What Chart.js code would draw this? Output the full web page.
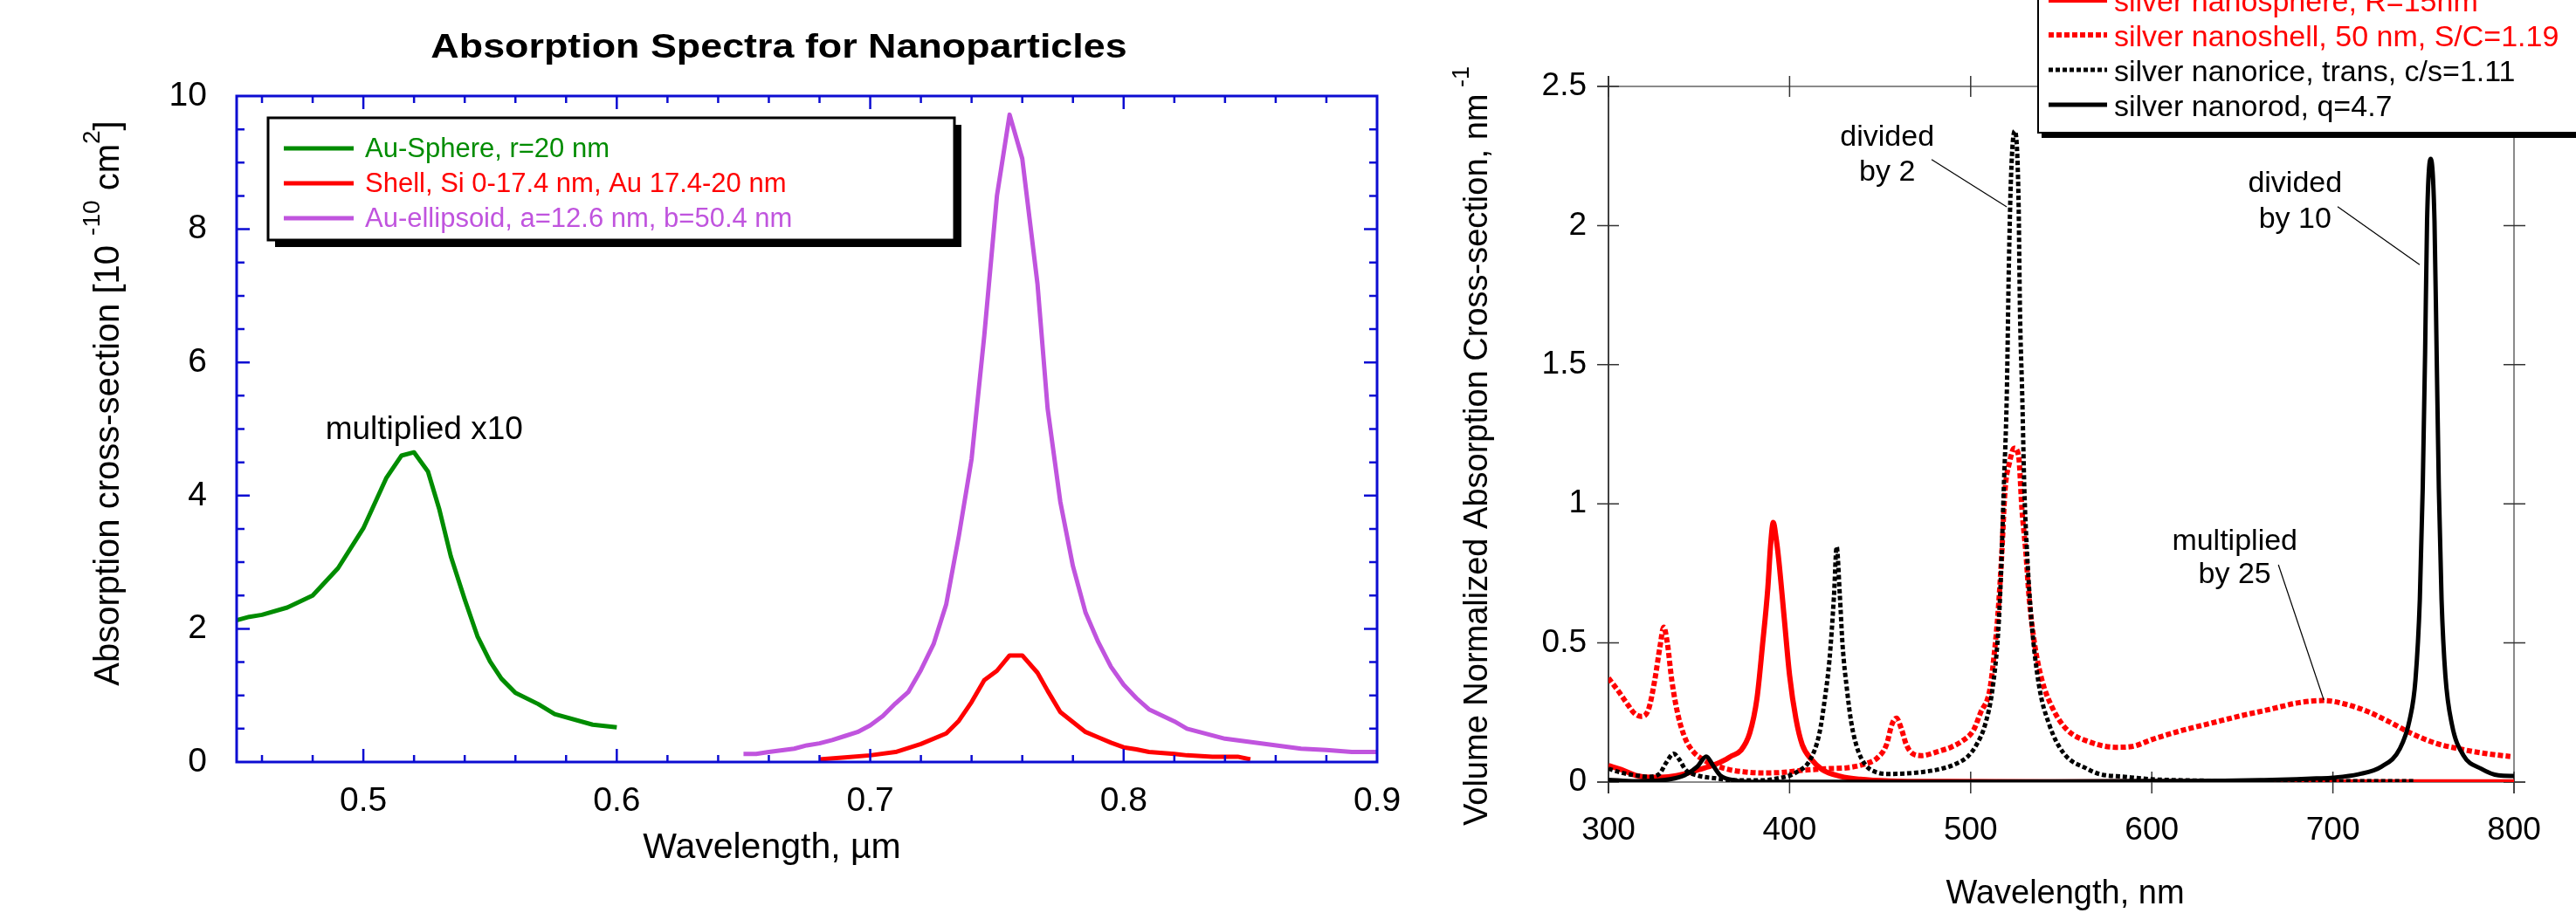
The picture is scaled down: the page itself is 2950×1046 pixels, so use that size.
<!DOCTYPE html>
<html>
<head>
<meta charset="utf-8">
<title>Absorption spectra of nanoparticles</title>
<script src="https://cdn.jsdelivr.net/npm/chart.js@4.4.1/dist/chart.umd.min.js"></script>
<style>
  html, body { margin: 0; padding: 0; background: #fff; }
  #wrap { position: relative; width: 2950px; height: 1046px; overflow: hidden; background: #fff; }
  canvas { position: absolute; top: 0; }
  #leftChart { left: 0; }
  #rightChart { left: 1640px; }
</style>
</head>
<body>
<div id="wrap">
  <canvas id="leftChart" width="1640" height="1046"></canvas>
  <canvas id="rightChart" width="1310" height="1046"></canvas>
</div>
<script>
// ---- left panel data (wavelength in um, cross-section in 1e-10 cm^2) ----
const leftXTicks = [0.5, 0.6, 0.7, 0.8, 0.9];
const leftXTickLabels = ['0.5', '0.6', '0.7', '0.8', '0.9'];
const leftYTicks = [0, 2, 4, 6, 8, 10];
const leftYTickLabels = ['0', '2', '4', '6', '8', '10'];
const leftLegendLabels = ['Au-Sphere, r=20 nm', 'Shell, Si 0-17.4 nm, Au 17.4-20 nm', 'Au-ellipsoid, a=12.6 nm, b=50.4 nm'];

const sphereWl = [0.45, 0.455, 0.46, 0.47, 0.48, 0.49, 0.50, 0.509, 0.515, 0.52, 0.5255, 0.530, 0.5345, 0.54, 0.545, 0.55, 0.5545, 0.56, 0.569, 0.5755, 0.5905, 0.60];
const sphereAbs = [2.13, 2.18, 2.21, 2.32, 2.50, 2.91, 3.51, 4.26, 4.60, 4.65, 4.36, 3.79, 3.09, 2.44, 1.89, 1.51, 1.25, 1.04, 0.87, 0.72, 0.56, 0.52];

const shellWl = [0.68, 0.69, 0.70, 0.71, 0.72, 0.73, 0.735, 0.74, 0.745, 0.75, 0.755, 0.76, 0.766, 0.77, 0.775, 0.78, 0.785, 0.79, 0.795, 0.80, 0.805, 0.81, 0.82, 0.825, 0.835, 0.845, 0.85];
const shellAbs = [0.04, 0.07, 0.10, 0.15, 0.27, 0.43, 0.62, 0.90, 1.23, 1.37, 1.60, 1.60, 1.34, 1.07, 0.75, 0.60, 0.45, 0.37, 0.29, 0.22, 0.19, 0.15, 0.12, 0.10, 0.08, 0.08, 0.04];

const ellipsoidWl = [0.65, 0.655, 0.66, 0.67, 0.675, 0.68, 0.685, 0.69, 0.695, 0.70, 0.705, 0.71, 0.715, 0.72, 0.725, 0.73, 0.735, 0.74, 0.745, 0.75, 0.755, 0.76, 0.766, 0.77, 0.775, 0.78, 0.785, 0.79, 0.795, 0.80, 0.805, 0.81, 0.82, 0.825, 0.84, 0.87, 0.88, 0.89, 0.90];
const ellipsoidAbs = [0.12, 0.12, 0.15, 0.20, 0.25, 0.28, 0.33, 0.39, 0.45, 0.55, 0.69, 0.88, 1.05, 1.38, 1.77, 2.37, 3.4, 4.55, 6.4, 8.5, 9.72, 9.06, 7.18, 5.31, 3.91, 2.94, 2.24, 1.80, 1.43, 1.16, 0.96, 0.79, 0.61, 0.50, 0.35, 0.20, 0.18, 0.15, 0.15];

// ---- right panel data (wavelength in nm, normalized cross-section in nm^-1) ----
const rightXTicks = [300, 400, 500, 600, 700, 800];
const rightXTickLabels = ['300', '400', '500', '600', '700', '800'];
const rightYTicks = [0, 0.5, 1, 1.5, 2, 2.5];
const rightYTickLabels = ['0', '0.5', '1', '1.5', '2', '2.5'];
const rightLegendLabels = ['silver nanosphere, R=15nm', 'silver nanoshell, 50 nm, S/C=1.19', 'silver nanorice, trans, c/s=1.11', 'silver nanorod, q=4.7'];

const nanosphereNm = [300, 307, 315, 323, 333, 342, 350, 358, 365, 368, 373, 378, 382, 385, 388, 389.5, 391, 392.5, 394, 397, 400, 403.5, 407, 412, 418, 428, 439, 455, 487, 550, 650, 800];
const nanosphereVal = [0.059, 0.045, 0.024, 0.017, 0.019, 0.029, 0.045, 0.061, 0.082, 0.094, 0.113, 0.176, 0.301, 0.489, 0.698, 0.85, 0.933, 0.88, 0.80, 0.593, 0.384, 0.228, 0.134, 0.082, 0.045, 0.021, 0.010, 0.004, 0.002, 0.001, 0.001, 0.001];

const nanoshellNm = [300, 306, 311, 314, 318, 322, 325.5, 328.5, 330.5, 332.5, 335, 338.5, 342.5, 347, 352, 358.5, 366.5, 374.5, 384, 394, 407, 420, 432.5, 442, 448.5, 453.5, 456.5, 459, 461.5, 464.5, 468, 473, 481, 489, 495, 501.5, 505.5, 510.5, 513, 515, 517, 519, 521.5, 524, 526.5, 528.3, 530.4, 532.3, 535.2, 539.2, 544.9, 552.9, 565.8, 580, 589, 601, 617, 633, 649, 665, 681, 695, 707, 719, 731, 743, 757, 771, 785, 798];
const nanoshellVal = [0.374, 0.322, 0.275, 0.249, 0.236, 0.259, 0.364, 0.489, 0.557, 0.500, 0.364, 0.238, 0.155, 0.108, 0.082, 0.061, 0.045, 0.037, 0.033, 0.034, 0.042, 0.048, 0.052, 0.066, 0.087, 0.134, 0.207, 0.230, 0.196, 0.134, 0.102, 0.095, 0.108, 0.125, 0.146, 0.186, 0.25, 0.33, 0.46, 0.6, 0.8, 1.05, 1.15, 1.20, 1.17, 0.98, 0.83, 0.66, 0.50, 0.37, 0.27, 0.19, 0.144, 0.125, 0.128, 0.155, 0.186, 0.212, 0.238, 0.261, 0.285, 0.293, 0.280, 0.254, 0.217, 0.176, 0.139, 0.118, 0.102, 0.092];

const nanoriceNm = [300, 307, 315, 322, 328, 332, 336, 339, 342.5, 349, 358.5, 371, 384, 394, 403.5, 411.5, 416.5, 419.5, 422, 424.5, 426, 427.7, 429.3, 431.7, 434, 437.3, 442, 448.6, 455, 464.6, 474.3, 484, 492, 498.4, 503.2, 508, 512, 515.2, 516.7, 518.3, 519.9, 521.1, 522.3, 524.3, 526.4, 527.2, 528.5, 529.6, 531.2, 533.6, 537.6, 543.3, 551.3, 564.2, 571, 585, 600, 621, 650, 700, 745];
const nanoriceVal = [0.048, 0.034, 0.024, 0.019, 0.029, 0.071, 0.102, 0.082, 0.045, 0.024, 0.014, 0.006, 0.006, 0.014, 0.034, 0.082, 0.176, 0.301, 0.437, 0.667, 0.846, 0.677, 0.489, 0.332, 0.217, 0.123, 0.061, 0.034, 0.029, 0.031, 0.037, 0.048, 0.066, 0.092, 0.134, 0.207, 0.332, 0.541, 0.74, 1.06, 1.38, 1.86, 2.18, 2.34, 2.10, 1.70, 1.38, 1.06, 0.816, 0.577, 0.352, 0.208, 0.104, 0.048, 0.029, 0.019, 0.010, 0.006, 0.004, 0.003, 0.003];

const nanorodNm = [300, 315, 334, 342, 349, 354, 357.7, 361.7, 370, 381, 450, 550, 600, 640, 660, 680, 691, 700, 714, 727, 737, 742.4, 745.6, 748, 749.6, 750.9, 752, 754, 756.1, 757.3, 758.5, 760, 762.1, 765.7, 772.1, 781.8, 791.4, 800];
const nanorodVal = [0.008, 0.003, 0.010, 0.024, 0.055, 0.092, 0.060, 0.024, 0.006, 0.001, 0.001, 0.002, 0.004, 0.005, 0.007, 0.010, 0.013, 0.016, 0.028, 0.056, 0.12, 0.224, 0.368, 0.656, 1.056, 1.536, 2.016, 2.24, 2.016, 1.536, 1.056, 0.656, 0.384, 0.208, 0.096, 0.048, 0.024, 0.022];

// ---- styles ----
const FONT = "'Liberation Sans', Arial, Helvetica, sans-serif";
const BLUE = '#0c0cd2';
const GREEN = 'rgb(0,140,0)';
const RED = '#ff0000';
const PURPLE = 'rgb(192,84,222)';

function pts(xs, ys) {
    return xs.map((x, i) => ({ x: x, y: ys[i] }));
}

// draws a line of text made of runs, some of them superscript
function drawRich(ctx, runs, x, y, size, opts) {
    opts = opts || {};
    const weight = opts.bold ? 'bold ' : '';
    const supSize = Math.round(size * 0.7);
    let total = 0;
    const widths = runs.map(r => {
        ctx.font = weight + (r.sup ? supSize : size) + 'px ' + FONT;
        const w = ctx.measureText(r.t).width;
        total += w;
        return w;
    });
    ctx.save();
    ctx.translate(x, y);
    if (opts.rotate) ctx.rotate(opts.rotate);
    if (opts.stretch) ctx.scale(opts.stretch, 1);
    ctx.fillStyle = opts.color || '#000';
    ctx.textBaseline = 'alphabetic';
    ctx.textAlign = 'left';
    let cx = opts.align === 'left' ? 0 : -total / 2;
    runs.forEach((r, i) => {
        ctx.font = weight + (r.sup ? supSize : size) + 'px ' + FONT;
        ctx.fillText(r.t, cx, r.sup ? -size * 0.55 : 0);
        cx += widths[i];
    });
    ctx.restore();
}

function drawLegend(ctx, datasets, labels, box, rows) {
    ctx.save();
    ctx.fillStyle = '#000';
    ctx.fillRect(box.x + box.shadowX, box.y + box.shadowY, box.w, box.h);
    ctx.fillStyle = '#fff';
    ctx.fillRect(box.x, box.y, box.w, box.h);
    ctx.strokeStyle = '#000';
    ctx.lineWidth = box.border;
    ctx.strokeRect(box.x, box.y, box.w, box.h);
    datasets.forEach((ds, i) => {
        const base = rows.baselines[i];
        ctx.beginPath();
        ctx.strokeStyle = ds.borderColor;
        ctx.lineWidth = ds.borderWidth;
        ctx.setLineDash(ds.borderDash || []);
        ctx.moveTo(rows.x0, base - rows.lineOffset);
        ctx.lineTo(rows.x1, base - rows.lineOffset);
        ctx.stroke();
        ctx.setLineDash([]);
        ctx.font = rows.size + 'px ' + FONT;
        ctx.fillStyle = ds.borderColor;
        ctx.textAlign = 'left';
        ctx.textBaseline = 'alphabetic';
        ctx.fillText(labels[i], rows.textX, base);
    });
    ctx.restore();
}

// ---------------- left chart ----------------
const leftDecor = {
    id: 'leftDecor',
    afterDatasetsDraw(chart) {
        const { ctx, chartArea: a, scales: { x, y } } = chart;
        ctx.save();
        ctx.strokeStyle = BLUE;
        ctx.lineWidth = 3;
        ctx.strokeRect(a.left, a.top, a.right - a.left, a.bottom - a.top);
        ctx.lineWidth = 2.5;
        ctx.beginPath();
        // x ticks every 0.02, long ones every 0.1
        for (let k = 23; k < 45; k++) {
            const px = x.getPixelForValue(k * 0.02);
            const len = k % 5 === 0 ? 15 : 8;
            ctx.moveTo(px, a.bottom); ctx.lineTo(px, a.bottom - len);
            ctx.moveTo(px, a.top); ctx.lineTo(px, a.top + len);
        }
        // y ticks every 0.5, long ones every 2
        for (let k = 1; k < 20; k++) {
            const py = y.getPixelForValue(k * 0.5);
            const len = k % 4 === 0 ? 15 : 9;
            ctx.moveTo(a.left, py); ctx.lineTo(a.left + len, py);
            ctx.moveTo(a.right, py); ctx.lineTo(a.right - len, py);
        }
        ctx.stroke();
        ctx.restore();

        // annotation
        drawRich(ctx, [{ t: 'multiplied x10' }], x.getPixelForValue(0.524), y.getPixelForValue(4.85), 37);

        drawLegend(ctx, chart.data.datasets, leftLegendLabels,
            { x: 307, y: 135, w: 786, h: 140, shadowX: 8, shadowY: 8, border: 3 },
            { baselines: [180, 220, 260], lineOffset: 10, x0: 325, x1: 405, textX: 418, size: 31 });
    },
    afterDraw(chart) {
        const ctx = chart.ctx;
        drawRich(ctx, [{ t: 'Absorption Spectra for Nanoparticles' }], 892, 66, 38, { bold: true, stretch: 1.18 });
        drawRich(ctx, [{ t: 'Wavelength, \u00b5m' }], 884, 983, 41);
        drawRich(ctx, [
            { t: 'Absorption cross-section [10 ' }, { t: '-10', sup: true },
            { t: ' cm' }, { t: '2', sup: true }, { t: ']' }
        ], 136, 462, 40, { rotate: -Math.PI / 2 });
    }
};

new Chart(document.getElementById('leftChart'), {
    type: 'line',
    data: {
        datasets: [
            { label: leftLegendLabels[0], data: pts(sphereWl, sphereAbs), borderColor: GREEN, borderWidth: 5 },
            { label: leftLegendLabels[1], data: pts(shellWl, shellAbs), borderColor: RED, borderWidth: 5 },
            { label: leftLegendLabels[2], data: pts(ellipsoidWl, ellipsoidAbs), borderColor: PURPLE, borderWidth: 5 }
        ]
    },
    options: {
        responsive: false,
        animation: false,
        devicePixelRatio: 1,
        events: [],
        layout: { padding: { left: 0, top: 110, right: 63, bottom: 0 } },
        elements: { point: { radius: 0 }, line: { tension: 0, fill: false, borderJoinStyle: 'round' } },
        plugins: { legend: { display: false }, tooltip: { enabled: false } },
        scales: {
            x: {
                type: 'linear', min: 0.45, max: 0.9,
                afterBuildTicks: s => { s.ticks = leftXTicks.map(v => ({ value: v })); },
                afterFit: s => { s.height = 173; },
                grid: { display: false, drawTicks: false },
                border: { display: false },
                ticks: {
                    callback: (v, i) => leftXTickLabels[i],
                    color: '#000', padding: 22, maxRotation: 0, autoSkip: false,
                    font: { family: FONT, size: 39 }
                }
            },
            y: {
                type: 'linear', min: 0, max: 10,
                afterBuildTicks: s => { s.ticks = leftYTicks.map(v => ({ value: v })); },
                afterFit: s => { s.width = 271; },
                grid: { display: false, drawTicks: false },
                border: { display: false },
                ticks: {
                    callback: (v, i) => leftYTickLabels[i],
                    color: '#000', padding: 34, autoSkip: false,
                    font: { family: FONT, size: 39 }
                }
            }
        }
    },
    plugins: [leftDecor]
});

// ---------------- right chart ----------------
const rightNotes = [
    { lines: ['divided', 'by 2'], x: 453.9, y: [2.287, 2.161], from: [478.4, 2.237], to: [519.9, 2.067] },
    { lines: ['divided', 'by 10'], x: 679.1, y: [2.120, 1.992], from: [702.6, 2.068], to: [747.9, 1.859] },
    { lines: ['multiplied', 'by 25'], x: 645.8, y: [0.834, 0.715], from: [669.9, 0.781], to: [695.0, 0.295] }
];

const rightDecor = {
    id: 'rightDecor',
    beforeDatasetsDraw(chart) {
        const { ctx, chartArea: a, scales: { x, y } } = chart;
        ctx.save();
        ctx.strokeStyle = '#8a8a8a';
        ctx.lineWidth = 2;
        ctx.beginPath();
        ctx.moveTo(a.left - 13, a.top); ctx.lineTo(a.right, a.top);
        ctx.moveTo(a.right, a.top); ctx.lineTo(a.right, a.bottom + 13);
        ctx.moveTo(a.left - 13, a.bottom); ctx.lineTo(a.right + 13, a.bottom);
        ctx.stroke();
        ctx.strokeStyle = '#000';
        ctx.lineWidth = 1.5;
        ctx.beginPath();
        ctx.moveTo(a.left, a.top - 12); ctx.lineTo(a.left, a.bottom + 13);
        ctx.stroke();
        ctx.strokeStyle = '#333';
        ctx.lineWidth = 1.5;
        ctx.beginPath();
        rightXTicks.forEach(v => {
            const px = x.getPixelForValue(v);
            ctx.moveTo(px, a.bottom - 12); ctx.lineTo(px, a.bottom + 13);
            ctx.moveTo(px, a.top - 12); ctx.lineTo(px, a.top + 12);
        });
        rightYTicks.forEach(v => {
            const py = y.getPixelForValue(v);
            ctx.moveTo(a.left - 13, py); ctx.lineTo(a.left + 12, py);
            ctx.moveTo(a.right - 12, py); ctx.lineTo(a.right + 13, py);
        });
        ctx.stroke();
        ctx.restore();
    },
    afterDatasetsDraw(chart) {
        const { ctx, scales: { x, y } } = chart;
        rightNotes.forEach(n => {
            n.lines.forEach((t, i) => {
                drawRich(ctx, [{ t: t }], x.getPixelForValue(n.x), y.getPixelForValue(n.y[i]), 34);
            });
            ctx.save();
            ctx.strokeStyle = '#000';
            ctx.lineWidth = 1.2;
            ctx.beginPath();
            ctx.moveTo(x.getPixelForValue(n.from[0]), y.getPixelForValue(n.from[1]));
            ctx.lineTo(x.getPixelForValue(n.to[0]), y.getPixelForValue(n.to[1]));
            ctx.stroke();
            ctx.restore();
        });

        drawLegend(ctx, chart.data.datasets, rightLegendLabels,
            { x: 694, y: -40, w: 700, h: 192, shadowX: 4, shadowY: 6, border: 2 },
            { baselines: [13, 53, 93, 133], lineOffset: 13, x0: 706, x1: 773, textX: 781, size: 34 });
    },
    afterDraw(chart) {
        const ctx = chart.ctx;
        drawRich(ctx, [{ t: 'Wavelength, nm' }], 725, 1035, 38);
        drawRich(ctx, [
            { t: 'Volume Normalized Absorption Cross-section, nm' }, { t: ' -1', sup: true }
        ], 63, 511, 38, { rotate: -Math.PI / 2 });
    }
};

new Chart(document.getElementById('rightChart'), {
    type: 'line',
    data: {
        datasets: [
            { label: rightLegendLabels[0], data: pts(nanosphereNm, nanosphereVal), borderColor: RED, borderWidth: 6, order: 3 },
            { label: rightLegendLabels[1], data: pts(nanoshellNm, nanoshellVal), borderColor: RED, borderWidth: 6, borderDash: [6, 3], order: 2 },
            { label: rightLegendLabels[2], data: pts(nanoriceNm, nanoriceVal), borderColor: '#000', borderWidth: 5, borderDash: [5, 3], order: 1 },
            { label: rightLegendLabels[3], data: pts(nanorodNm, nanorodVal), borderColor: '#000', borderWidth: 5, order: 0 }
        ]
    },
    options: {
        responsive: false,
        animation: false,
        devicePixelRatio: 1,
        events: [],
        layout: { padding: { left: 0, top: 99, right: 71, bottom: 0 } },
        elements: { point: { radius: 0 }, line: { cubicInterpolationMode: 'monotone', fill: false } },
        plugins: { legend: { display: false }, tooltip: { enabled: false } },
        scales: {
            x: {
                type: 'linear', min: 300, max: 800,
                afterBuildTicks: s => { s.ticks = rightXTicks.map(v => ({ value: v })); },
                afterFit: s => { s.height = 150; },
                grid: { display: false, drawTicks: false },
                border: { display: false },
                ticks: {
                    callback: (v, i) => rightXTickLabels[i],
                    color: '#000', padding: 34, maxRotation: 0, autoSkip: false,
                    font: { family: FONT, size: 37 }
                }
            },
            y: {
                type: 'linear', min: 0, max: 2.5,
                afterBuildTicks: s => { s.ticks = rightYTicks.map(v => ({ value: v })); },
                afterFit: s => { s.width = 202; },
                grid: { display: false, drawTicks: false },
                border: { display: false },
                ticks: {
                    callback: (v, i) => rightYTickLabels[i],
                    color: '#000', padding: 25, autoSkip: false,
                    font: { family: FONT, size: 37 }
                }
            }
        }
    },
    plugins: [rightDecor]
});
</script>
</body>
</html>
